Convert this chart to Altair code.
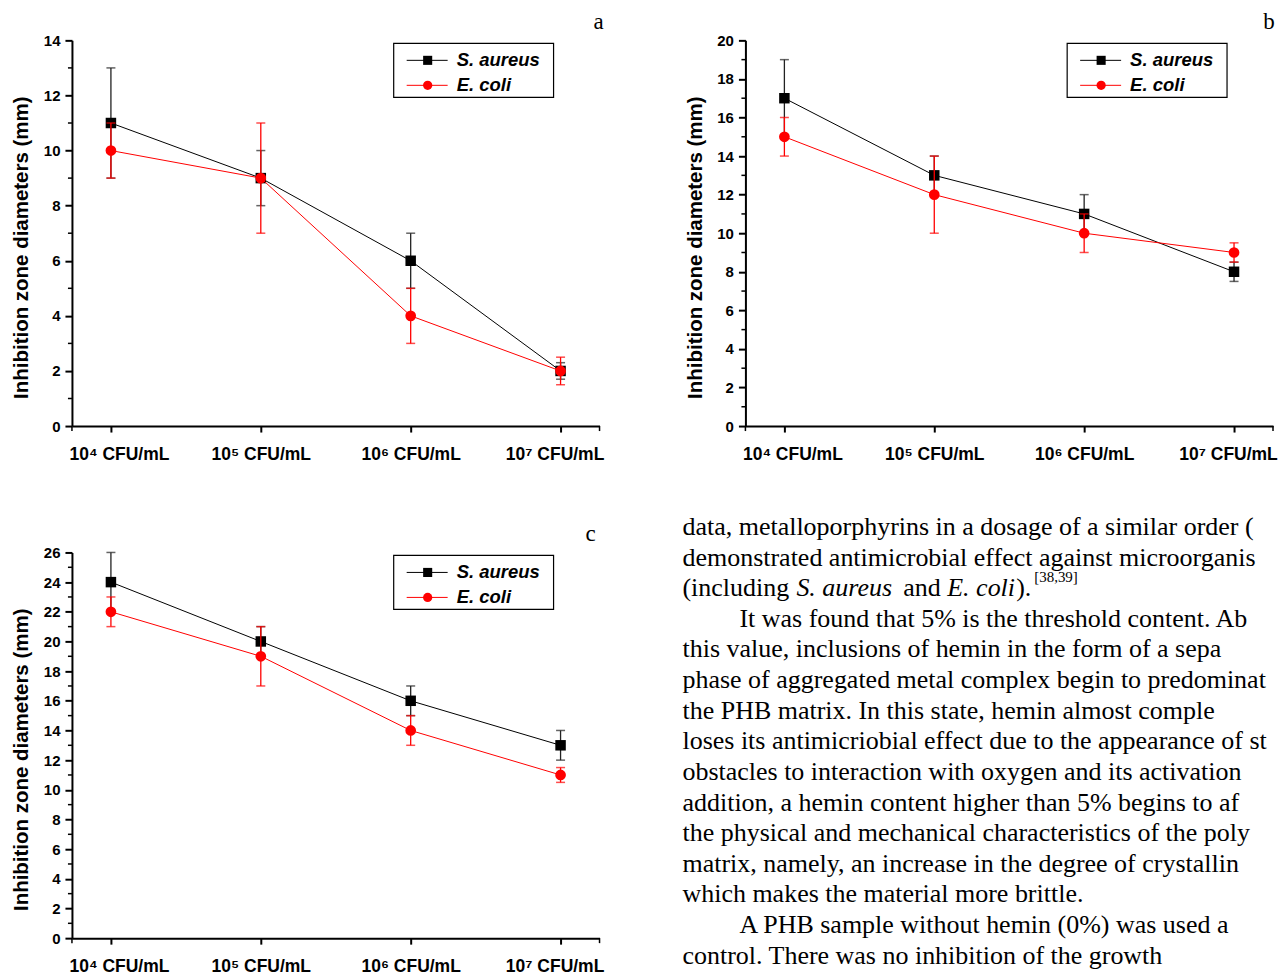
import altair as alt
import pandas as pd

# ---------------- data ----------------
categories = ["10\u2074 CFU/mL", "10\u2075 CFU/mL", "10\u2076 CFU/mL", "10\u2077 CFU/mL"]
series_names = ["S. aureus", "E. coli"]

a_aureus = [11, 9, 6, 2]
a_aureus_err = [2, 1, 1, 0.3]
a_coli = [10, 9, 4, 2]
a_coli_err = [1, 2, 1, 0.5]

b_aureus = [17, 13, 11, 8]
b_aureus_err = [2, 1, 1, 0.5]
b_coli = [15, 12, 10, 9]
b_coli_err = [1, 2, 1, 0.5]

c_aureus = [24, 20, 16, 13]
c_aureus_err = [2, 1, 1, 1]
c_coli = [22, 19, 14, 11]
c_coli_err = [1, 2, 1, 0.5]

a_major = [0, 2, 4, 6, 8, 10, 12, 14]
a_minor = [1, 3, 5, 7, 9, 11, 13]
b_major = [0, 2, 4, 6, 8, 10, 12, 14, 16, 18, 20]
b_minor = [1, 3, 5, 7, 9, 11, 13, 15, 17, 19]
c_major = [0, 2, 4, 6, 8, 10, 12, 14, 16, 18, 20, 22, 24, 26]
c_minor = [1, 3, 5, 7, 9, 11, 13, 15, 17, 19, 21, 23, 25]

y_title = "Inhibition zone diameters (mm)"

text_lines = [
    "data, metalloporphyrins in a dosage of a similar order (",
    "demonstrated antimicrobial effect against microorganis",
    "(including S. aureus and E. coli).",
    "It was found that 5% is the threshold content. Ab",
    "this value, inclusions of hemin in the form of a sepa",
    "phase of aggregated metal complex begin to predominat",
    "the PHB matrix. In this state, hemin almost comple",
    "loses its antimicriobial effect due to the appearance of st",
    "obstacles to interaction with oxygen and its activation",
    "addition, a hemin content higher than 5% begins to af",
    "the physical and mechanical characteristics of the poly",
    "matrix, namely, an increase in the degree of crystallin",
    "which makes the material more brittle.",
    "A PHB sample without hemin (0%) was used a",
    "control. There was no inhibition of the growth",
]
paragraph_starts = [3, 13]
mixed_line = 2
mixed_segments = ["(including", "S. aureus", "and", "E. coli", ")."]
mixed_styles = ["normal", "italic", "normal", "italic", "normal"]
citation = "[38,39]"

# ---------------- style ----------------
W, H = 528, 386
BLACK = "#000000"
RED = "#ff0000"
SANS = "Liberation Sans"
SERIF = "Liberation Serif"


def make_panel(aureus, aureus_err, coli, coli_err, ymax, major, minor, letter, letter_x, anchor=False):
    yscale = alt.Scale(domain=[0, ymax], nice=False, zero=True)
    label_offset = {
        "condition": [
            {"test": f"datum.value === '{categories[0]}'", "value": 8},
            {"test": f"datum.value === '{categories[3]}'", "value": -6},
        ],
        "value": 0,
    }
    xaxis = alt.Axis(
        title=None, labelAngle=0, labelFont=SANS, labelFontSize=17.5, labelFontWeight="bold",
        labelColor="black", labelPadding=13, labelBaseline="top", tickSize=6, tickWidth=2,
        tickColor="black", domainColor="black", domainWidth=2, grid=False,
        labelOffset=label_offset,
    )
    yaxis = alt.Axis(
        values=major, title=y_title, titleFont=SANS, titleFontSize=20.5, titleFontWeight="bold",
        titleColor="black", titleAngle=270, titleX=-50, titleY=207, titleAlign="center",
        titleBaseline="middle", labelFont=SANS, labelFontSize=15, labelFontWeight="bold",
        labelColor="black", labelPadding=5, tickSize=7, tickWidth=2, tickColor="black",
        domainColor="black", domainWidth=2, grid=False,
    )
    xenc = alt.X("cat:O", sort=categories, scale=alt.Scale(type="point", padding=0.26), axis=xaxis)

    layers = []
    minor_df = pd.DataFrame({"v": minor})
    layers.append(
        alt.Chart(minor_df).mark_rule(color="black", strokeWidth=1.5).encode(
            x=alt.value(-4), x2=alt.value(0), y=alt.Y("v:Q", scale=yscale, axis=yaxis)
        )
    )

    one = pd.DataFrame({"k": [0]})
    # small end ticks of the x axis
    for ex in (0, W):
        layers.append(alt.Chart(one).mark_rule(color="black", strokeWidth=1.5).encode(
            x=alt.value(ex), y=alt.value(H), y2=alt.value(H + 5)))

    specs = [
        (series_names[0], aureus, aureus_err, BLACK, "#222222", "square", 110),
        (series_names[1], coli, coli_err, RED, RED, "circle", 115),
    ]
    for name, vals, errs, col, ecol, shape, size in specs:
        df = pd.DataFrame({
            "cat": categories,
            "series": name,
            "value": vals,
            "lo": [v - e for v, e in zip(vals, errs)],
            "hi": [v + e for v, e in zip(vals, errs)],
        })
        base = alt.Chart(df)
        layers.append(base.mark_line(color=col, strokeWidth=1).encode(
            x=xenc, y=alt.Y("value:Q", scale=yscale, axis=yaxis)))
        layers.append(base.mark_rule(color=ecol, strokeWidth=1.3).encode(
            x=xenc, y=alt.Y("lo:Q", scale=yscale, axis=yaxis), y2="hi:Q"))
        layers.append(base.mark_tick(color=ecol, thickness=1.5, size=9).encode(
            x=xenc, y=alt.Y("lo:Q", scale=yscale, axis=yaxis)))
        layers.append(base.mark_tick(color=ecol, thickness=1.5, size=9).encode(
            x=xenc, y=alt.Y("hi:Q", scale=yscale, axis=yaxis)))
        layers.append(base.mark_point(shape=shape, filled=True, size=size, color=col, opacity=1).encode(
            x=xenc, y=alt.Y("value:Q", scale=yscale, axis=yaxis)))

    # legend
    layers.append(alt.Chart(one).mark_rect(fill="white", stroke="black", strokeWidth=1.2).encode(
        x=alt.value(322), x2=alt.value(482), y=alt.value(3), y2=alt.value(57)))
    for i, (name, vals, errs, col, ecol, shape, size) in enumerate(specs):
        ly = 20 + 25 * i
        ldf = pd.DataFrame({"series": [name]})
        lb = alt.Chart(ldf)
        layers.append(lb.mark_rule(color=col, strokeWidth=1).encode(
            x=alt.value(335), x2=alt.value(376), y=alt.value(ly)))
        layers.append(lb.mark_point(shape=shape, filled=True, size=size * 0.75, color=col, opacity=1).encode(
            x=alt.value(356), y=alt.value(ly)))
        layers.append(lb.mark_text(align="left", baseline="middle", font=SANS, fontSize=18.5,
                                   fontStyle="italic", fontWeight="bold", color="black").encode(
            x=alt.value(385), y=alt.value(ly), text="series:N"))

    # panel letter
    layers.append(alt.Chart(pd.DataFrame({"t": [letter]})).mark_text(
        align="center", baseline="alphabetic", font=SERIF, fontSize=23, color="black").encode(
        x=alt.value(letter_x), y=alt.value(-11), text="t:N"))

    if anchor:
        layers.append(alt.Chart(one).mark_rule(strokeOpacity=0, strokeWidth=0.01).encode(
            x=alt.value(-64), x2=alt.value(-64), y=alt.value(-32), y2=alt.value(-30)))

    return alt.layer(*layers).properties(width=W, height=H)


panel_a = make_panel(a_aureus, a_aureus_err, a_coli, a_coli_err, 14, a_major, a_minor, "a", 527, anchor=True)
panel_b = make_panel(b_aureus, b_aureus_err, b_coli, b_coli_err, 20, b_major, b_minor, "b", 524)
panel_c = make_panel(c_aureus, c_aureus_err, c_coli, c_coli_err, 26, c_major, c_minor, "c", 519)

# text block (its view shares the bottom row with panel c; lines start above it)
line_scale = alt.Scale(domain=[0.832, 13.43], reverse=True, nice=False, zero=False)
text_df = pd.DataFrame({
    "line": list(range(len(text_lines))),
    "text": text_lines,
    "kind": ["mixed" if i == mixed_line else ("indent" if i in paragraph_starts else "plain")
             for i in range(len(text_lines))],
})
text_props = dict(align="left", baseline="middle", font=SERIF, fontSize=26, color="black",
                  limit=595, ellipsis="")
text_base = alt.Chart(text_df)
text_plain = text_base.transform_filter("datum.kind === 'plain'").mark_text(**text_props).encode(
    x=alt.value(-63), y=alt.Y("line:Q", scale=line_scale, axis=None), text="text:N")
text_indent = text_base.transform_filter("datum.kind === 'indent'").mark_text(
    **{**text_props, "limit": 538}).encode(
    x=alt.value(-6), y=alt.Y("line:Q", scale=line_scale, axis=None), text="text:N")

seg_x = [-63, 51, 158, 202, 271]
seg_layers = []
for seg, style, sx in zip(mixed_segments, mixed_styles, seg_x):
    sdf = pd.DataFrame({"line": [mixed_line], "text": [seg]})
    seg_layers.append(alt.Chart(sdf).mark_text(**{**text_props, "fontStyle": style}).encode(
        x=alt.value(sx), y=alt.Y("line:Q", scale=line_scale, axis=None), text="text:N"))

text_cite = alt.Chart(pd.DataFrame({"t": [citation]})).mark_text(
    align="left", baseline="middle", font=SERIF, fontSize=15, color="black"
).encode(x=alt.value(289), y=alt.value(25), text="t:N")
text_view = alt.layer(text_plain, text_indent, *seg_layers, text_cite).properties(width=W, height=H)

chart = alt.concat(
    panel_a, panel_b, panel_c, text_view,
    columns=2, spacing={"row": 126.5, "column": 146}, bounds="flush",
).properties(padding=0, background="white").configure_view(stroke=None)

chart.save("out.html", embed_options={"renderer": "svg", "actions": False})
